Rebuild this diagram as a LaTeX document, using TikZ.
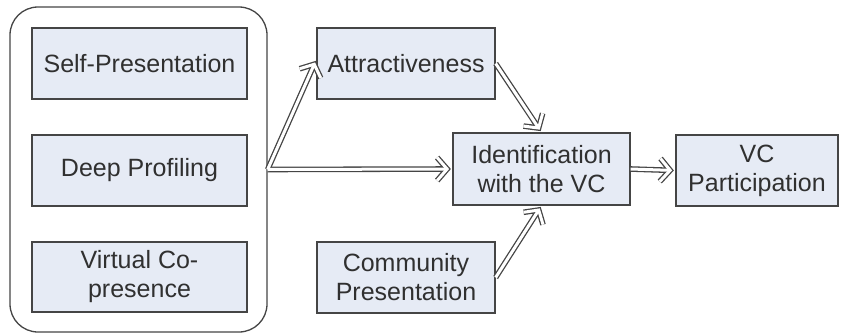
\documentclass[tikz,border=0pt]{standalone}
\usepackage{fontspec}
\setmainfont{Liberation Sans}
\usetikzlibrary{arrows.meta}
\definecolor{boxfill}{HTML}{E6EBF5}
\definecolor{boxline}{HTML}{454545}
\definecolor{txt}{HTML}{303030}
\begin{document}
\begin{tikzpicture}[x=1pt,y=-1pt,
  box/.style={draw=boxline, line width=1.3pt, fill=boxfill, text=txt, align=center,
    inner sep=0pt, font=\fontsize{25}{29}\selectfont},
  grp/.style={draw=boxline, line width=1.3pt, rounded corners=28pt},
  dbo/.style={draw=boxline, line width=5.6pt,
    -{Straight Barb[length=10pt,width=23pt,line width=5.6pt]}, shorten >=1.5pt},
  dbi/.style={draw=white, line width=3pt,
    -{Straight Barb[length=10pt,width=23pt,line width=3pt]}, shorten >=3.2pt, shorten <=0pt}]
\useasboundingbox (0,0) rectangle (845,335);
\node[grp, minimum width=257pt, minimum height=325pt] (group) at (138.5,169.5) {};
\node[box, minimum width=215pt, minimum height=71pt] (self) at (139.5,63.5) {Self-Presentation};
\node[box, minimum width=215pt, minimum height=71pt] (deep) at (139.5,170.5) {Deep Profiling};
\node[box, minimum width=215pt, minimum height=70pt] (virt) at (139.5,277) {Virtual Co-\\presence};
\node[box, minimum width=178pt, minimum height=71pt] (attr) at (406,63.5) {Attractiveness};
\node[box, minimum width=177pt, minimum height=72pt] (ident) at (541.5,169) {Identification\\with the VC};
\node[box, minimum width=178pt, minimum height=71pt] (comm) at (406,277.5) {Community\\Presentation};
\node[box, minimum width=162pt, minimum height=71pt] (vcp) at (757,170.5) {VC\\Participation};
\foreach \s in {dbo,dbi}{
  \draw[\s] (group.east) -- ([yshift=4pt]attr.west);
  \draw[\s] (group.east) -- (ident.west);
  \draw[\s] (attr.east) -- (ident.north);
  \draw[\s] (comm.east) -- (ident.south);
  \draw[\s] (ident.east) -- (vcp.west);
}
\end{tikzpicture}
\end{document}
